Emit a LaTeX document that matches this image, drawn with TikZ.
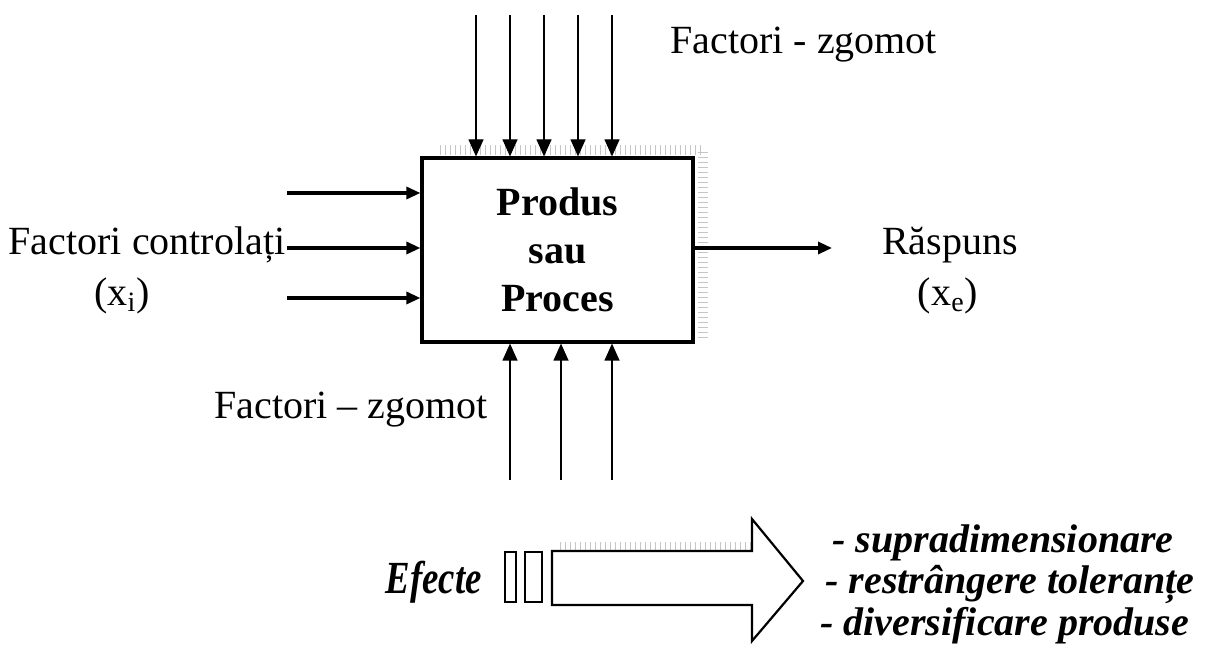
\documentclass[tikz,border=0pt]{standalone}
\usepackage{fontspec}
\setmainfont{Liberation Serif}
\usetikzlibrary{arrows.meta}

\begin{document}
\begin{tikzpicture}[x=0.5pt, y=-0.5pt,
    every node/.style={font=\fontsize{20}{22}\selectfont, inner sep=0pt},
    procbox/.style={draw, line width=1.6pt, fill=white, minimum width=135.5pt, minimum height=92pt, align=center, font=\fontsize{20}{24}\selectfont\bfseries},
    noise/.style={line width=0.6pt, -{Triangle[length=8.5pt, width=7.5pt]}},
    input/.style={line width=1.6pt, -{Triangle[length=7pt, width=6pt]}},
    shade/.style={gray!45, line width=5pt, dash pattern=on 0.5pt off 2pt},
    effect/.style={anchor=west, font=\fontsize{20}{22}\selectfont\bfseries\itshape}]
    \useasboundingbox (0,0) rectangle (1208,651);

    % Shadow
    \draw[shade] (440,150) -- (703,150) -- (703,340);
    \draw[shade] (560,547) -- (752,547);

    % Draw nodes
    \node[procbox] (proc) at (557.5,250) {Produs\\sau\\Proces};
    \foreach \x [count=\i] in {476,510,544,578,612}
        \coordinate (ztop\i) at (\x,15);
    \foreach \x [count=\i] in {510,561,612}
        \coordinate (zbot\i) at (\x,480);
    \foreach \y [count=\i] in {193,248,298}
        \coordinate (ctrl\i) at (287,\y);
    \coordinate (resp) at (832,248);

    % Draw connections
    \foreach \i in {1,...,5}
        \draw[noise] (ztop\i) -- (ztop\i |- proc.north);
    \foreach \i in {1,...,3}
        \draw[noise] (zbot\i) -- (zbot\i |- proc.south);
    \foreach \i in {1,...,3}
        \draw[input] (ctrl\i) -- (ctrl\i -| proc.west);
    \draw[input] (resp -| proc.east) -- (resp);

    % Effects arrow
    \draw[line width=1.1pt, fill=white] (505,552) rectangle (516,602);
    \draw[line width=1.1pt, fill=white] (525,552) rectangle (542,602);
    \draw[line width=1.1pt, fill=white] (552,551) -- (752,551) -- (752,519)
        -- (803,581) -- (752,641) -- (752,605) -- (552,605) -- cycle;

    % Labels
    \node[anchor=west] (ztoplbl) at (670,45) {Factori - zgomot};
    \node (zbotlbl) at (351,410) {Factori -- zgomot};
    \node (ctrllbl) at (147,245) {Factori controlați};
    \node (ctrlx) at (122,296) {(x\textsubscript{i})};
    \node (resplbl) at (950,245) {Răspuns};
    \node (respx) at (948,296) {(x\textsubscript{e})};
    \node[effect, anchor=east, font=\fontsize{23}{25}\selectfont\bfseries\itshape] (efect) at (482,582) {\scalebox{0.8}[1]{Efecte}};
    \node[effect] (ef1) at (832,543) {- supradimensionare};
    \node[effect] (ef2) at (825,585) {- restrângere toleranțe};
    \node[effect] (ef3) at (820,626) {- diversificare produse};
\end{tikzpicture}
\end{document}
